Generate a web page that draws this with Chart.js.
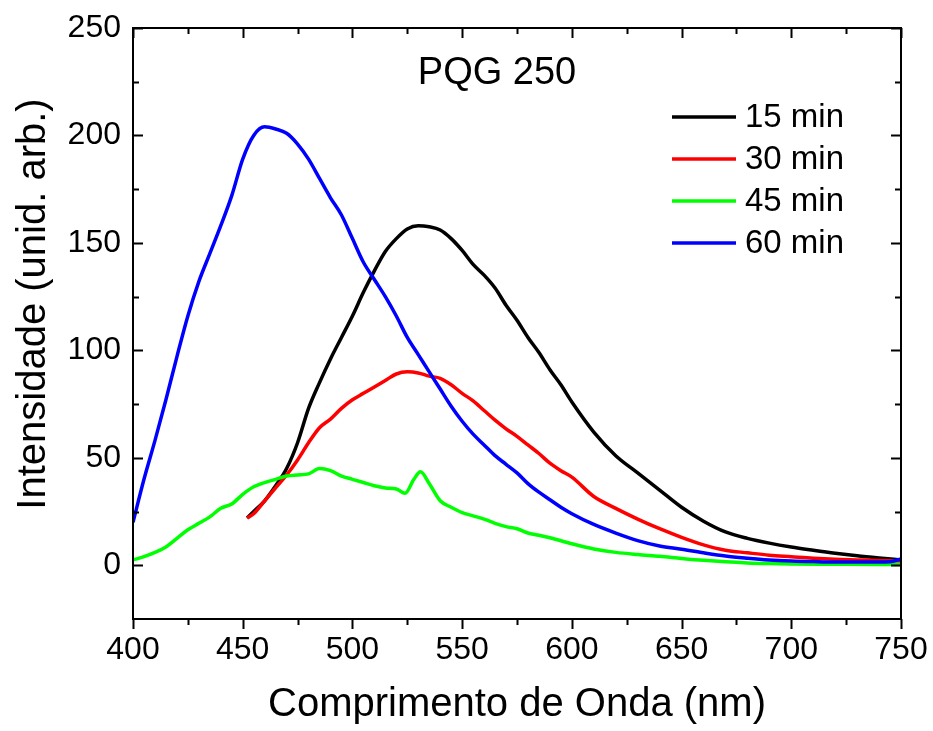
<!DOCTYPE html>
<html>
<head>
<meta charset="utf-8">
<script src="https://cdn.jsdelivr.net/npm/chart.js@4.4.1/dist/chart.umd.min.js"></script>
<style>
  html, body { margin: 0; padding: 0; background: #fff; }
  #chartCanvas { display: block; }
</style>
</head>
<body>
<canvas id="chartCanvas" width="933" height="731"></canvas>
<script>
// wavelength (nm) / intensity
const wl15 = [452,455,460,465,470,475,480,485,490,495,500,505,510,515,520,525,530,535,540,545,550,555,560,565,570,575,580,585,590,595,600,610,620,630,640,650,660,670,680,690,700,710,720,730,740,750];
const int15 = [22,25,30,37,45,57,73,85,96,106,116,127,137,146,152,156.5,158,157.5,156,152,146.5,140,135,129,121,114,106,99,91,84,76,62,51,43,35,27,20.5,15.5,12.5,10.3,8.5,7,5.6,4.4,3.4,2.5];

const wl30 = [452,455,460,465,470,475,480,485,490,495,500,505,510,515,520,525,530,535,540,545,550,555,560,565,570,575,580,585,590,595,600,610,620,630,640,650,660,670,680,690,700,710,720,730,740,750];
const int30 = [22,24,30,36,42,49,57,64,68,73,77,80,83,86,89,90,89.5,88,87,84,80,76.5,72,67.5,63.5,60,56,52,47.5,44,41,32,26.5,21.5,17,13,9.5,7,5.8,4.7,4,3.3,2.8,2.5,2.2,2];

const wl45 = [400,405,410,415,420,425,430,435,440,445,450,455,460,465,470,475,480,485,490,495,500,505,510,515,520,524,528,531,535,540,545,550,555,560,565,570,575,580,585,590,600,610,620,630,640,650,660,670,680,690,700,720,740,750];
const int45 = [2.5,4,6,8.5,12.5,16.5,19.5,22.5,26.5,28.5,33,36.5,38.5,40,41.5,42,42.5,45,44,41.5,40,38.5,37,36,35.5,33.5,40,43.5,38,30,27,24.5,23,21.5,19.5,18,17,15,14,12.8,10,7.6,6,5,4.2,3.2,2.3,1.6,1.1,0.8,0.6,0.5,0.4,0.4];

const wl60 = [400,405,410,415,420,425,430,435,440,445,450,455,460,465,470,475,480,485,490,495,500,505,510,515,520,525,530,535,540,545,550,555,560,565,570,575,580,585,590,595,600,610,620,630,640,650,660,670,680,690,700,710,720,730,740,745,750];
const int60 = [20,40,58,77,97,116,132,145,158,172,189,200,204,203,201,196,189,180,171,163,152,141,133,125,116,106,98,90,82,74,67,61,56,51,47,43,38,34,30.5,27,24,19,15,11.5,9,7.5,5.8,4.3,3.3,2.5,2,1.7,1.5,1.5,1.5,1.6,3];

const seriesLabels = ["15 min", "30 min", "45 min", "60 min"];
const seriesColors = ["#000000", "#ff0000", "#00ff00", "#0000ff"];

const xTicks = [400, 450, 500, 550, 600, 650, 700, 750];
const yTicks = [0, 50, 100, 150, 200, 250];
const minorStep = 25;

const FONT = "'Liberation Sans', Arial, sans-serif";

function toPoints(xs, ys) {
    return xs.map((x, i) => ({ x: x, y: ys[i] }));
}

// frame, inward/outward ticks, title, legend and y title drawn on top
const decorPlugin = {
    id: "decor",
    afterDraw(chart) {
        const ctx = chart.ctx;
        const { left, right, top, bottom } = chart.chartArea;
        const xs = chart.scales.x, ys = chart.scales.y;
        ctx.save();
        ctx.strokeStyle = "#000";
        ctx.lineWidth = 2;
        ctx.strokeRect(left, top, right - left, bottom - top);

        ctx.beginPath();
        for (let v = xs.min; v <= xs.max; v += minorStep) {
            const px = Math.round(xs.getPixelForValue(v)) + 0.5;
            const len = xTicks.includes(v) ? 10 : 6;
            ctx.moveTo(px, bottom); ctx.lineTo(px, bottom + len); // outward
            ctx.moveTo(px, top); ctx.lineTo(px, top + len);       // inward
        }
        for (let v = 0; v <= ys.max; v += minorStep) {
            const py = Math.round(ys.getPixelForValue(v)) + 0.5;
            const len = yTicks.includes(v) ? 10 : 6;
            ctx.moveTo(left, py); ctx.lineTo(left + len, py);
            ctx.moveTo(right, py); ctx.lineTo(right - len, py);
        }
        ctx.stroke();

        // title inside the plot
        ctx.fillStyle = "#000";
        ctx.font = "38px " + FONT;
        ctx.textAlign = "center";
        ctx.textBaseline = "middle";
        ctx.fillText("PQG 250", 497, 74);

        // legend
        ctx.font = "33px " + FONT;
        ctx.textAlign = "left";
        ctx.lineWidth = 3.5;
        seriesLabels.forEach((lab, i) => {
            const yy = 117 + i * 42;
            ctx.strokeStyle = seriesColors[i];
            ctx.beginPath();
            ctx.moveTo(672, yy); ctx.lineTo(736, yy);
            ctx.stroke();
            ctx.fillText(lab, 745, yy + 1);
        });

        // y axis title
        ctx.font = "40px " + FONT;
        ctx.textAlign = "center";
        ctx.translate(34, 304);
        ctx.rotate(-Math.PI / 2);
        ctx.fillText("Intensidade (unid. arb.)", 0, 0);
        ctx.restore();
    }
};

const ctx = document.getElementById("chartCanvas").getContext("2d");

new Chart(ctx, {
    type: "line",
    data: {
        datasets: [
            { label: seriesLabels[0], data: toPoints(wl15, int15), borderColor: seriesColors[0], order: 3 },
            { label: seriesLabels[1], data: toPoints(wl30, int30), borderColor: seriesColors[1], order: 2 },
            { label: seriesLabels[2], data: toPoints(wl45, int45), borderColor: seriesColors[2], order: 1 },
            { label: seriesLabels[3], data: toPoints(wl60, int60), borderColor: seriesColors[3], order: 0 },
        ],
    },
    options: {
        responsive: false,
        animation: false,
        layout: { padding: { top: 28, right: 32, left: 0, bottom: 0 } },
        elements: {
            point: { radius: 0 },
            line: { borderWidth: 3.5, cubicInterpolationMode: "monotone", fill: false },
        },
        plugins: {
            legend: { display: false },
            tooltip: { enabled: false },
            title: { display: false },
        },
        scales: {
            x: {
                type: "linear",
                min: 400,
                max: 750,
                afterFit: s => { s.height = 112; s.paddingLeft = 0; s.paddingRight = 0; },
                afterBuildTicks: s => { s.ticks = xTicks.map(v => ({ value: v })); },
                grid: { display: false, drawTicks: false },
                border: { display: false },
                ticks: { color: "#000", padding: 12, maxRotation: 0, font: { family: FONT, size: 32 } },
                title: {
                    display: true,
                    text: "Comprimento de Onda (nm)",
                    color: "#000",
                    font: { family: FONT, size: 40 },
                    padding: { top: 0, bottom: 2 },
                },
            },
            y: {
                type: "linear",
                min: -25,
                max: 250,
                afterFit: s => { s.width = 133; s.paddingTop = 0; s.paddingBottom = 0; },
                afterBuildTicks: s => { s.ticks = yTicks.map(v => ({ value: v })); },
                grid: { display: false, drawTicks: false },
                border: { display: false },
                ticks: { color: "#000", padding: 12, font: { family: FONT, size: 32 } },
            },
        },
    },
    plugins: [decorPlugin],
});
</script>
</body>
</html>
